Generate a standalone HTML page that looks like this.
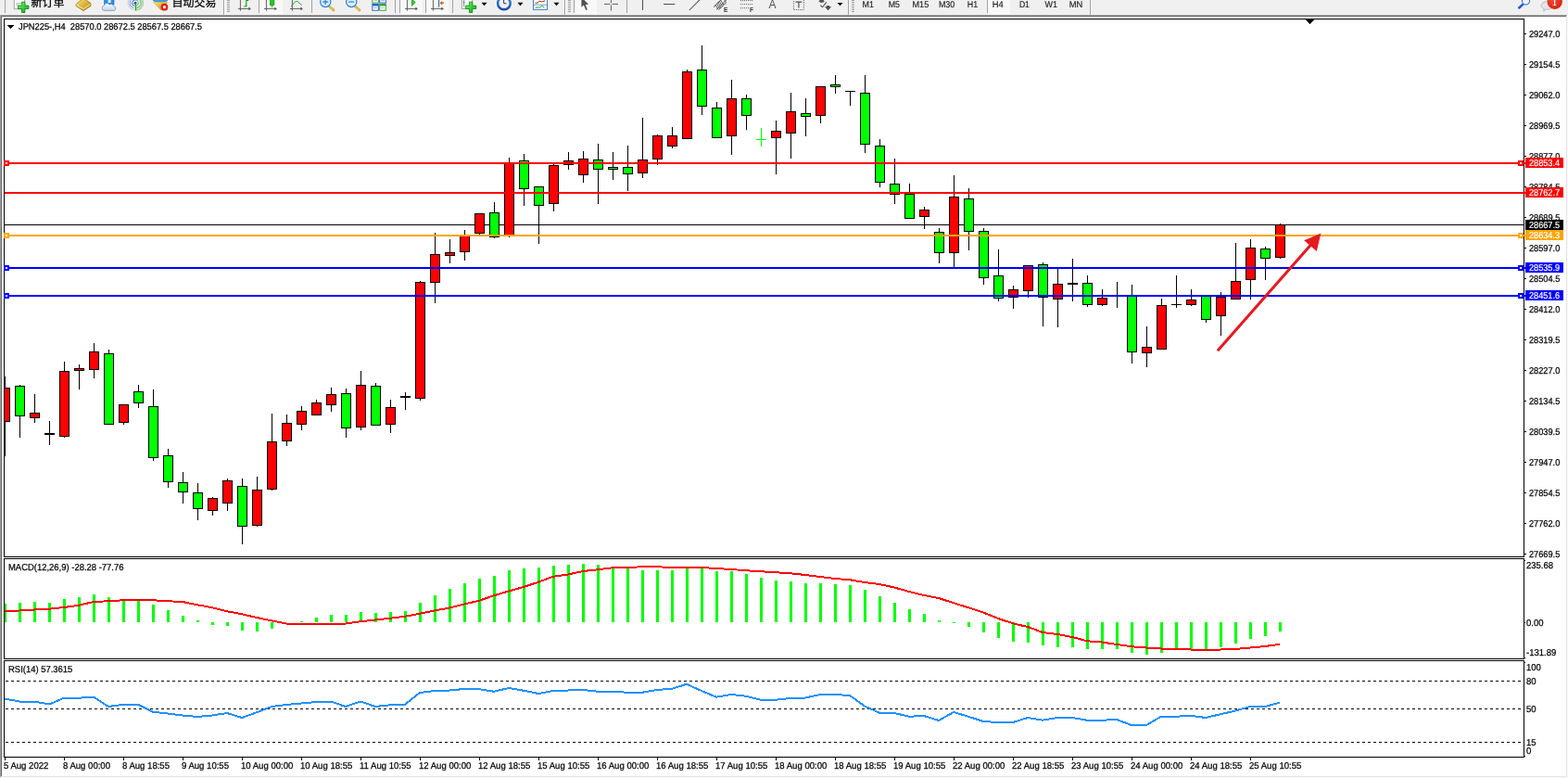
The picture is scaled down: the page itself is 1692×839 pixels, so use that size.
<!DOCTYPE html>
<html lang="zh"><head><meta charset="utf-8"><title>JPN225-,H4</title>
<style>
html,body{margin:0;padding:0;background:#fff;}
body{width:1692px;height:839px;position:relative;overflow:hidden;font-family:"Liberation Sans","Noto Sans CJK SC",sans-serif;}
#c{position:absolute;left:0;top:0;}
.ax{position:absolute;font-size:10px;line-height:11px;height:11px;color:#000;white-space:nowrap;text-rendering:geometricPrecision;-webkit-text-stroke:0.25px #000;transform:scaleX(0.92);transform-origin:0 0;}
.tm{transform:scaleX(0.955);}
.ti{transform:scaleX(0.945);}
.t0{transform:scaleX(0.93);}
.sa{transform:scaleX(0.95);}
.pl{position:absolute;left:1646px;width:41px;height:11px;overflow:hidden;}
.pl span{position:absolute;left:4px;top:1px;font-size:10px;line-height:11px;white-space:nowrap;text-rendering:geometricPrecision;-webkit-text-stroke:0.2px #fff;transform:scaleX(0.915);transform-origin:0 0;}
.tb{position:absolute;left:0;top:0;width:1692px;height:16px;overflow:hidden;}
.tt{position:absolute;font-size:11px;line-height:13px;color:#000;white-space:nowrap;}
.cj{position:absolute;font-size:12px;line-height:14px;color:#000;white-space:nowrap;font-family:"Liberation Sans","Noto Sans CJK SC",sans-serif;}
</style></head><body>
<svg id="c" width="1692" height="839" viewBox="0 0 1692 839" shape-rendering="crispEdges">
<defs><clipPath id="cm"><rect x="5" y="21" width="1639" height="579"/></clipPath></defs>
<rect x="0" y="0" width="1692" height="16" fill="#f0f0f0"/>
<rect x="0" y="16" width="1691" height="1" fill="#a0a0a0"/>
<rect x="1" y="17" width="1689" height="1" fill="#696969"/>
<rect x="0" y="16" width="1" height="823" fill="#a0a0a0"/>
<rect x="1" y="17" width="1" height="821" fill="#696969"/>
<rect x="1690" y="17" width="1" height="821" fill="#e3e3e3"/>
<rect x="1691" y="16" width="1" height="823" fill="#fafafa"/>
<rect x="1" y="837" width="1690" height="1" fill="#e3e3e3"/>
<rect x="0" y="838" width="1692" height="1" fill="#fafafa"/>
<rect x="4" y="20" width="1641" height="1" fill="#000"/>
<rect x="4" y="600" width="1641" height="1" fill="#000"/>
<rect x="4" y="20" width="1" height="581" fill="#000"/>
<rect x="1644" y="20" width="1" height="581" fill="#000"/>
<rect x="4" y="602" width="1641" height="1" fill="#000"/>
<rect x="4" y="710" width="1641" height="1" fill="#000"/>
<rect x="4" y="602" width="1" height="109" fill="#000"/>
<rect x="1644" y="602" width="1" height="109" fill="#000"/>
<rect x="4" y="712" width="1641" height="1" fill="#000"/>
<rect x="4" y="816" width="1641" height="1" fill="#000"/>
<rect x="4" y="712" width="1" height="105" fill="#000"/>
<rect x="1644" y="712" width="1" height="105" fill="#000"/>
<rect x="5" y="242" width="1639" height="1" fill="#000"/>
<g clip-path="url(#cm)">
<rect x="5" y="406" width="1" height="86" fill="#000"/>
<rect x="0" y="418" width="11" height="37" fill="#000"/>
<rect x="1" y="419" width="9" height="35" fill="#ff0000"/>
<rect x="21" y="415" width="1" height="57" fill="#000"/>
<rect x="16" y="416" width="11" height="33" fill="#000"/>
<rect x="17" y="417" width="9" height="31" fill="#00ff00"/>
<rect x="37" y="425" width="1" height="31" fill="#000"/>
<rect x="32" y="445" width="11" height="6" fill="#000"/>
<rect x="33" y="446" width="9" height="4" fill="#ff0000"/>
<rect x="53" y="454" width="1" height="26" fill="#000"/>
<rect x="48" y="467" width="11" height="2" fill="#000"/>
<rect x="69" y="390" width="1" height="82" fill="#000"/>
<rect x="64" y="400" width="11" height="71" fill="#000"/>
<rect x="65" y="401" width="9" height="69" fill="#ff0000"/>
<rect x="85" y="393" width="1" height="27" fill="#000"/>
<rect x="80" y="397" width="11" height="3" fill="#000"/>
<rect x="81" y="398" width="9" height="1" fill="#ff0000"/>
<rect x="101" y="370" width="1" height="38" fill="#000"/>
<rect x="96" y="379" width="11" height="20" fill="#000"/>
<rect x="97" y="380" width="9" height="18" fill="#ff0000"/>
<rect x="117" y="377" width="1" height="80" fill="#000"/>
<rect x="112" y="381" width="11" height="77" fill="#000"/>
<rect x="113" y="382" width="9" height="75" fill="#00ff00"/>
<rect x="133" y="436" width="1" height="22" fill="#000"/>
<rect x="128" y="436" width="11" height="20" fill="#000"/>
<rect x="129" y="437" width="9" height="18" fill="#ff0000"/>
<rect x="149" y="415" width="1" height="25" fill="#000"/>
<rect x="144" y="422" width="11" height="13" fill="#000"/>
<rect x="145" y="423" width="9" height="11" fill="#00ff00"/>
<rect x="165" y="420" width="1" height="77" fill="#000"/>
<rect x="160" y="438" width="11" height="56" fill="#000"/>
<rect x="161" y="439" width="9" height="54" fill="#00ff00"/>
<rect x="181" y="484" width="1" height="42" fill="#000"/>
<rect x="176" y="491" width="11" height="29" fill="#000"/>
<rect x="177" y="492" width="9" height="27" fill="#00ff00"/>
<rect x="197" y="509" width="1" height="34" fill="#000"/>
<rect x="192" y="520" width="11" height="11" fill="#000"/>
<rect x="193" y="521" width="9" height="9" fill="#00ff00"/>
<rect x="213" y="521" width="1" height="40" fill="#000"/>
<rect x="208" y="531" width="11" height="18" fill="#000"/>
<rect x="209" y="532" width="9" height="16" fill="#00ff00"/>
<rect x="229" y="536" width="1" height="20" fill="#000"/>
<rect x="224" y="537" width="11" height="14" fill="#000"/>
<rect x="225" y="538" width="9" height="12" fill="#ff0000"/>
<rect x="245" y="516" width="1" height="35" fill="#000"/>
<rect x="240" y="518" width="11" height="25" fill="#000"/>
<rect x="241" y="519" width="9" height="23" fill="#ff0000"/>
<rect x="261" y="516" width="1" height="71" fill="#000"/>
<rect x="256" y="524" width="11" height="44" fill="#000"/>
<rect x="257" y="525" width="9" height="42" fill="#00ff00"/>
<rect x="277" y="514" width="1" height="54" fill="#000"/>
<rect x="272" y="528" width="11" height="39" fill="#000"/>
<rect x="273" y="529" width="9" height="37" fill="#ff0000"/>
<rect x="293" y="446" width="1" height="83" fill="#000"/>
<rect x="288" y="476" width="11" height="52" fill="#000"/>
<rect x="289" y="477" width="9" height="50" fill="#ff0000"/>
<rect x="309" y="447" width="1" height="34" fill="#000"/>
<rect x="304" y="456" width="11" height="20" fill="#000"/>
<rect x="305" y="457" width="9" height="18" fill="#ff0000"/>
<rect x="325" y="438" width="1" height="26" fill="#000"/>
<rect x="320" y="443" width="11" height="15" fill="#000"/>
<rect x="321" y="444" width="9" height="13" fill="#ff0000"/>
<rect x="341" y="431" width="1" height="17" fill="#000"/>
<rect x="336" y="434" width="11" height="14" fill="#000"/>
<rect x="337" y="435" width="9" height="12" fill="#ff0000"/>
<rect x="357" y="418" width="1" height="26" fill="#000"/>
<rect x="352" y="425" width="11" height="12" fill="#000"/>
<rect x="353" y="426" width="9" height="10" fill="#ff0000"/>
<rect x="373" y="419" width="1" height="53" fill="#000"/>
<rect x="368" y="424" width="11" height="38" fill="#000"/>
<rect x="369" y="425" width="9" height="36" fill="#00ff00"/>
<rect x="389" y="400" width="1" height="64" fill="#000"/>
<rect x="384" y="415" width="11" height="46" fill="#000"/>
<rect x="385" y="416" width="9" height="44" fill="#ff0000"/>
<rect x="405" y="413" width="1" height="46" fill="#000"/>
<rect x="400" y="416" width="11" height="43" fill="#000"/>
<rect x="401" y="417" width="9" height="41" fill="#00ff00"/>
<rect x="421" y="431" width="1" height="36" fill="#000"/>
<rect x="416" y="439" width="11" height="19" fill="#000"/>
<rect x="417" y="440" width="9" height="17" fill="#ff0000"/>
<rect x="437" y="423" width="1" height="19" fill="#000"/>
<rect x="432" y="427" width="11" height="2" fill="#000"/>
<rect x="453" y="303" width="1" height="129" fill="#000"/>
<rect x="448" y="304" width="11" height="126" fill="#000"/>
<rect x="449" y="305" width="9" height="124" fill="#ff0000"/>
<rect x="469" y="251" width="1" height="76" fill="#000"/>
<rect x="464" y="274" width="11" height="31" fill="#000"/>
<rect x="465" y="275" width="9" height="29" fill="#ff0000"/>
<rect x="485" y="258" width="1" height="26" fill="#000"/>
<rect x="480" y="272" width="11" height="4" fill="#000"/>
<rect x="481" y="273" width="9" height="2" fill="#ff0000"/>
<rect x="501" y="248" width="1" height="33" fill="#000"/>
<rect x="496" y="254" width="11" height="18" fill="#000"/>
<rect x="497" y="255" width="9" height="16" fill="#ff0000"/>
<rect x="517" y="230" width="1" height="23" fill="#000"/>
<rect x="512" y="230" width="11" height="22" fill="#000"/>
<rect x="513" y="231" width="9" height="20" fill="#ff0000"/>
<rect x="533" y="218" width="1" height="39" fill="#000"/>
<rect x="528" y="229" width="11" height="27" fill="#000"/>
<rect x="529" y="230" width="9" height="25" fill="#00ff00"/>
<rect x="549" y="170" width="1" height="86" fill="#000"/>
<rect x="544" y="175" width="11" height="80" fill="#000"/>
<rect x="545" y="176" width="9" height="78" fill="#ff0000"/>
<rect x="565" y="166" width="1" height="56" fill="#000"/>
<rect x="560" y="173" width="11" height="31" fill="#000"/>
<rect x="561" y="174" width="9" height="29" fill="#00ff00"/>
<rect x="581" y="201" width="1" height="62" fill="#000"/>
<rect x="576" y="201" width="11" height="21" fill="#000"/>
<rect x="577" y="202" width="9" height="19" fill="#00ff00"/>
<rect x="597" y="177" width="1" height="51" fill="#000"/>
<rect x="592" y="178" width="11" height="42" fill="#000"/>
<rect x="593" y="179" width="9" height="40" fill="#ff0000"/>
<rect x="613" y="164" width="1" height="19" fill="#000"/>
<rect x="608" y="173" width="11" height="5" fill="#000"/>
<rect x="609" y="174" width="9" height="3" fill="#ff0000"/>
<rect x="629" y="163" width="1" height="34" fill="#000"/>
<rect x="624" y="171" width="11" height="18" fill="#000"/>
<rect x="625" y="172" width="9" height="16" fill="#ff0000"/>
<rect x="645" y="155" width="1" height="65" fill="#000"/>
<rect x="640" y="172" width="11" height="11" fill="#000"/>
<rect x="641" y="173" width="9" height="9" fill="#00ff00"/>
<rect x="661" y="164" width="1" height="30" fill="#000"/>
<rect x="656" y="180" width="11" height="3" fill="#000"/>
<rect x="657" y="181" width="9" height="1" fill="#00ff00"/>
<rect x="677" y="157" width="1" height="49" fill="#000"/>
<rect x="672" y="180" width="11" height="8" fill="#000"/>
<rect x="673" y="181" width="9" height="6" fill="#00ff00"/>
<rect x="693" y="127" width="1" height="65" fill="#000"/>
<rect x="688" y="172" width="11" height="15" fill="#000"/>
<rect x="689" y="173" width="9" height="13" fill="#ff0000"/>
<rect x="709" y="145" width="1" height="33" fill="#000"/>
<rect x="704" y="146" width="11" height="26" fill="#000"/>
<rect x="705" y="147" width="9" height="24" fill="#ff0000"/>
<rect x="725" y="137" width="1" height="23" fill="#000"/>
<rect x="720" y="146" width="11" height="12" fill="#000"/>
<rect x="721" y="147" width="9" height="10" fill="#ff0000"/>
<rect x="741" y="75" width="1" height="75" fill="#000"/>
<rect x="736" y="77" width="11" height="73" fill="#000"/>
<rect x="737" y="78" width="9" height="71" fill="#ff0000"/>
<rect x="757" y="49" width="1" height="75" fill="#000"/>
<rect x="752" y="75" width="11" height="40" fill="#000"/>
<rect x="753" y="76" width="9" height="38" fill="#00ff00"/>
<rect x="773" y="110" width="1" height="39" fill="#000"/>
<rect x="768" y="116" width="11" height="33" fill="#000"/>
<rect x="769" y="117" width="9" height="31" fill="#00ff00"/>
<rect x="789" y="86" width="1" height="81" fill="#000"/>
<rect x="784" y="106" width="11" height="41" fill="#000"/>
<rect x="785" y="107" width="9" height="39" fill="#ff0000"/>
<rect x="805" y="102" width="1" height="38" fill="#000"/>
<rect x="800" y="106" width="11" height="19" fill="#000"/>
<rect x="801" y="107" width="9" height="17" fill="#00ff00"/>
<rect x="821" y="138" width="1" height="20" fill="#00ff00"/>
<rect x="816" y="150" width="11" height="1" fill="#00ff00"/>
<rect x="837" y="130" width="1" height="58" fill="#000"/>
<rect x="832" y="141" width="11" height="8" fill="#000"/>
<rect x="833" y="142" width="9" height="6" fill="#ff0000"/>
<rect x="853" y="100" width="1" height="71" fill="#000"/>
<rect x="848" y="120" width="11" height="24" fill="#000"/>
<rect x="849" y="121" width="9" height="22" fill="#ff0000"/>
<rect x="869" y="106" width="1" height="41" fill="#000"/>
<rect x="864" y="122" width="11" height="4" fill="#000"/>
<rect x="865" y="123" width="9" height="2" fill="#00ff00"/>
<rect x="885" y="93" width="1" height="40" fill="#000"/>
<rect x="880" y="93" width="11" height="32" fill="#000"/>
<rect x="881" y="94" width="9" height="30" fill="#ff0000"/>
<rect x="901" y="81" width="1" height="20" fill="#000"/>
<rect x="896" y="91" width="11" height="3" fill="#000"/>
<rect x="897" y="92" width="9" height="1" fill="#00ff00"/>
<rect x="917" y="98" width="1" height="16" fill="#000"/>
<rect x="912" y="98" width="11" height="1" fill="#000"/>
<rect x="933" y="81" width="1" height="84" fill="#000"/>
<rect x="928" y="100" width="11" height="56" fill="#000"/>
<rect x="929" y="101" width="9" height="54" fill="#00ff00"/>
<rect x="949" y="150" width="1" height="52" fill="#000"/>
<rect x="944" y="157" width="11" height="40" fill="#000"/>
<rect x="945" y="158" width="9" height="38" fill="#00ff00"/>
<rect x="965" y="171" width="1" height="49" fill="#000"/>
<rect x="960" y="198" width="11" height="12" fill="#000"/>
<rect x="961" y="199" width="9" height="10" fill="#00ff00"/>
<rect x="981" y="198" width="1" height="38" fill="#000"/>
<rect x="976" y="209" width="11" height="27" fill="#000"/>
<rect x="977" y="210" width="9" height="25" fill="#00ff00"/>
<rect x="997" y="223" width="1" height="24" fill="#000"/>
<rect x="992" y="226" width="11" height="8" fill="#000"/>
<rect x="993" y="227" width="9" height="6" fill="#ff0000"/>
<rect x="1013" y="246" width="1" height="38" fill="#000"/>
<rect x="1008" y="250" width="11" height="23" fill="#000"/>
<rect x="1009" y="251" width="9" height="21" fill="#00ff00"/>
<rect x="1029" y="189" width="1" height="99" fill="#000"/>
<rect x="1024" y="212" width="11" height="61" fill="#000"/>
<rect x="1025" y="213" width="9" height="59" fill="#ff0000"/>
<rect x="1045" y="203" width="1" height="67" fill="#000"/>
<rect x="1040" y="214" width="11" height="36" fill="#000"/>
<rect x="1041" y="215" width="9" height="34" fill="#00ff00"/>
<rect x="1061" y="246" width="1" height="61" fill="#000"/>
<rect x="1056" y="249" width="11" height="51" fill="#000"/>
<rect x="1057" y="250" width="9" height="49" fill="#00ff00"/>
<rect x="1077" y="269" width="1" height="56" fill="#000"/>
<rect x="1072" y="297" width="11" height="25" fill="#000"/>
<rect x="1073" y="298" width="9" height="23" fill="#00ff00"/>
<rect x="1093" y="308" width="1" height="25" fill="#000"/>
<rect x="1088" y="312" width="11" height="9" fill="#000"/>
<rect x="1089" y="313" width="9" height="7" fill="#ff0000"/>
<rect x="1109" y="286" width="1" height="35" fill="#000"/>
<rect x="1104" y="286" width="11" height="28" fill="#000"/>
<rect x="1105" y="287" width="9" height="26" fill="#ff0000"/>
<rect x="1125" y="283" width="1" height="69" fill="#000"/>
<rect x="1120" y="285" width="11" height="36" fill="#000"/>
<rect x="1121" y="286" width="9" height="34" fill="#00ff00"/>
<rect x="1141" y="289" width="1" height="64" fill="#000"/>
<rect x="1136" y="306" width="11" height="17" fill="#000"/>
<rect x="1137" y="307" width="9" height="15" fill="#ff0000"/>
<rect x="1157" y="279" width="1" height="46" fill="#000"/>
<rect x="1152" y="305" width="11" height="2" fill="#000"/>
<rect x="1173" y="297" width="1" height="34" fill="#000"/>
<rect x="1168" y="305" width="11" height="24" fill="#000"/>
<rect x="1169" y="306" width="9" height="22" fill="#00ff00"/>
<rect x="1189" y="312" width="1" height="18" fill="#000"/>
<rect x="1184" y="321" width="11" height="8" fill="#000"/>
<rect x="1185" y="322" width="9" height="6" fill="#ff0000"/>
<rect x="1205" y="304" width="1" height="28" fill="#000"/>
<rect x="1200" y="318" width="11" height="1" fill="#000"/>
<rect x="1221" y="307" width="1" height="85" fill="#000"/>
<rect x="1216" y="319" width="11" height="61" fill="#000"/>
<rect x="1217" y="320" width="9" height="59" fill="#00ff00"/>
<rect x="1237" y="352" width="1" height="44" fill="#000"/>
<rect x="1232" y="374" width="11" height="7" fill="#000"/>
<rect x="1233" y="375" width="9" height="5" fill="#ff0000"/>
<rect x="1253" y="322" width="1" height="55" fill="#000"/>
<rect x="1248" y="329" width="11" height="48" fill="#000"/>
<rect x="1249" y="330" width="9" height="46" fill="#ff0000"/>
<rect x="1269" y="297" width="1" height="35" fill="#000"/>
<rect x="1264" y="328" width="11" height="1" fill="#000"/>
<rect x="1285" y="312" width="1" height="18" fill="#000"/>
<rect x="1280" y="323" width="11" height="6" fill="#000"/>
<rect x="1281" y="324" width="9" height="4" fill="#ff0000"/>
<rect x="1301" y="319" width="1" height="29" fill="#000"/>
<rect x="1296" y="319" width="11" height="26" fill="#000"/>
<rect x="1297" y="320" width="9" height="24" fill="#00ff00"/>
<rect x="1317" y="315" width="1" height="47" fill="#000"/>
<rect x="1312" y="320" width="11" height="21" fill="#000"/>
<rect x="1313" y="321" width="9" height="19" fill="#ff0000"/>
<rect x="1333" y="262" width="1" height="61" fill="#000"/>
<rect x="1328" y="303" width="11" height="20" fill="#000"/>
<rect x="1329" y="304" width="9" height="18" fill="#ff0000"/>
<rect x="1349" y="258" width="1" height="65" fill="#000"/>
<rect x="1344" y="267" width="11" height="35" fill="#000"/>
<rect x="1345" y="268" width="9" height="33" fill="#ff0000"/>
<rect x="1365" y="266" width="1" height="36" fill="#000"/>
<rect x="1360" y="268" width="11" height="11" fill="#000"/>
<rect x="1361" y="269" width="9" height="9" fill="#00ff00"/>
<rect x="1381" y="241" width="1" height="38" fill="#000"/>
<rect x="1376" y="242" width="11" height="36" fill="#000"/>
<rect x="1377" y="243" width="9" height="34" fill="#ff0000"/>
</g>
<rect x="5" y="175" width="1641" height="2" fill="#ff0000"/>
<rect x="4" y="173" width="6" height="6" fill="#ff0000"/>
<rect x="6" y="175" width="2" height="2" fill="#fff"/>
<rect x="1638" y="173" width="6" height="6" fill="#ff0000"/>
<rect x="1640" y="175" width="2" height="2" fill="#fff"/>
<rect x="5" y="207" width="1641" height="2" fill="#ff0000"/>
<rect x="5" y="253" width="1641" height="2" fill="#ffa500"/>
<rect x="4" y="251" width="6" height="6" fill="#ffa500"/>
<rect x="6" y="253" width="2" height="2" fill="#fff"/>
<rect x="1638" y="251" width="6" height="6" fill="#ffa500"/>
<rect x="1640" y="253" width="2" height="2" fill="#fff"/>
<rect x="5" y="288" width="1641" height="2" fill="#0000ff"/>
<rect x="4" y="286" width="6" height="6" fill="#0000ff"/>
<rect x="6" y="288" width="2" height="2" fill="#fff"/>
<rect x="1638" y="286" width="6" height="6" fill="#0000ff"/>
<rect x="1640" y="288" width="2" height="2" fill="#fff"/>
<rect x="5" y="318" width="1641" height="2" fill="#0000ff"/>
<rect x="4" y="316" width="6" height="6" fill="#0000ff"/>
<rect x="6" y="318" width="2" height="2" fill="#fff"/>
<rect x="1638" y="316" width="6" height="6" fill="#0000ff"/>
<rect x="1640" y="318" width="2" height="2" fill="#fff"/>
<g shape-rendering="geometricPrecision"><line x1="1313.9" y1="378.2" x2="1414.3" y2="264.2" stroke="#e41a21" stroke-width="3.1"/><polygon points="1425.4,251.6 1407.2,259.3 1420.8,271" fill="#e41a21"/></g>
<rect x="1409" y="21" width="9" height="1" fill="#000"/>
<rect x="1410" y="22" width="7" height="1" fill="#000"/>
<rect x="1411" y="23" width="5" height="1" fill="#000"/>
<rect x="1412" y="24" width="3" height="1" fill="#000"/>
<rect x="1413" y="25" width="1" height="1" fill="#000"/>
<rect x="5" y="651" width="2" height="20" fill="#00ff00"/>
<rect x="20" y="650" width="3" height="21" fill="#00ff00"/>
<rect x="36" y="649" width="3" height="22" fill="#00ff00"/>
<rect x="52" y="650" width="3" height="21" fill="#00ff00"/>
<rect x="68" y="646" width="3" height="25" fill="#00ff00"/>
<rect x="84" y="644" width="3" height="27" fill="#00ff00"/>
<rect x="100" y="641" width="3" height="30" fill="#00ff00"/>
<rect x="116" y="644" width="3" height="27" fill="#00ff00"/>
<rect x="132" y="646" width="3" height="25" fill="#00ff00"/>
<rect x="148" y="647" width="3" height="24" fill="#00ff00"/>
<rect x="164" y="652" width="3" height="19" fill="#00ff00"/>
<rect x="180" y="658" width="3" height="13" fill="#00ff00"/>
<rect x="196" y="664" width="3" height="7" fill="#00ff00"/>
<rect x="212" y="669" width="3" height="2" fill="#00ff00"/>
<rect x="228" y="671" width="3" height="3" fill="#00ff00"/>
<rect x="244" y="671" width="3" height="4" fill="#00ff00"/>
<rect x="260" y="671" width="3" height="9" fill="#00ff00"/>
<rect x="276" y="671" width="3" height="10" fill="#00ff00"/>
<rect x="292" y="671" width="3" height="7" fill="#00ff00"/>
<rect x="308" y="671" width="3" height="0" fill="#00ff00"/>
<rect x="324" y="670" width="3" height="1" fill="#00ff00"/>
<rect x="340" y="666" width="3" height="5" fill="#00ff00"/>
<rect x="356" y="663" width="3" height="8" fill="#00ff00"/>
<rect x="372" y="663" width="3" height="8" fill="#00ff00"/>
<rect x="388" y="660" width="3" height="11" fill="#00ff00"/>
<rect x="404" y="661" width="3" height="10" fill="#00ff00"/>
<rect x="420" y="660" width="3" height="11" fill="#00ff00"/>
<rect x="436" y="659" width="3" height="12" fill="#00ff00"/>
<rect x="452" y="650" width="3" height="21" fill="#00ff00"/>
<rect x="468" y="642" width="3" height="29" fill="#00ff00"/>
<rect x="484" y="635" width="3" height="36" fill="#00ff00"/>
<rect x="500" y="629" width="3" height="42" fill="#00ff00"/>
<rect x="516" y="624" width="3" height="47" fill="#00ff00"/>
<rect x="532" y="621" width="3" height="50" fill="#00ff00"/>
<rect x="548" y="615" width="3" height="56" fill="#00ff00"/>
<rect x="564" y="613" width="3" height="58" fill="#00ff00"/>
<rect x="580" y="612" width="3" height="59" fill="#00ff00"/>
<rect x="596" y="610" width="3" height="61" fill="#00ff00"/>
<rect x="612" y="609" width="3" height="62" fill="#00ff00"/>
<rect x="628" y="608" width="3" height="63" fill="#00ff00"/>
<rect x="644" y="609" width="3" height="62" fill="#00ff00"/>
<rect x="660" y="611" width="3" height="60" fill="#00ff00"/>
<rect x="676" y="613" width="3" height="58" fill="#00ff00"/>
<rect x="692" y="615" width="3" height="56" fill="#00ff00"/>
<rect x="708" y="615" width="3" height="56" fill="#00ff00"/>
<rect x="724" y="615" width="3" height="56" fill="#00ff00"/>
<rect x="740" y="613" width="3" height="58" fill="#00ff00"/>
<rect x="756" y="613" width="3" height="58" fill="#00ff00"/>
<rect x="772" y="616" width="3" height="55" fill="#00ff00"/>
<rect x="788" y="616" width="3" height="55" fill="#00ff00"/>
<rect x="804" y="619" width="3" height="52" fill="#00ff00"/>
<rect x="820" y="623" width="3" height="48" fill="#00ff00"/>
<rect x="836" y="626" width="3" height="45" fill="#00ff00"/>
<rect x="852" y="627" width="3" height="44" fill="#00ff00"/>
<rect x="868" y="629" width="3" height="42" fill="#00ff00"/>
<rect x="884" y="629" width="3" height="42" fill="#00ff00"/>
<rect x="900" y="630" width="3" height="41" fill="#00ff00"/>
<rect x="916" y="631" width="3" height="40" fill="#00ff00"/>
<rect x="932" y="636" width="3" height="35" fill="#00ff00"/>
<rect x="948" y="643" width="3" height="28" fill="#00ff00"/>
<rect x="964" y="650" width="3" height="21" fill="#00ff00"/>
<rect x="980" y="657" width="3" height="14" fill="#00ff00"/>
<rect x="996" y="662" width="3" height="9" fill="#00ff00"/>
<rect x="1012" y="669" width="3" height="2" fill="#00ff00"/>
<rect x="1028" y="671" width="3" height="1" fill="#00ff00"/>
<rect x="1044" y="671" width="3" height="5" fill="#00ff00"/>
<rect x="1060" y="671" width="3" height="11" fill="#00ff00"/>
<rect x="1076" y="671" width="3" height="17" fill="#00ff00"/>
<rect x="1092" y="671" width="3" height="21" fill="#00ff00"/>
<rect x="1108" y="671" width="3" height="22" fill="#00ff00"/>
<rect x="1124" y="671" width="3" height="25" fill="#00ff00"/>
<rect x="1140" y="671" width="3" height="27" fill="#00ff00"/>
<rect x="1156" y="671" width="3" height="27" fill="#00ff00"/>
<rect x="1172" y="671" width="3" height="29" fill="#00ff00"/>
<rect x="1188" y="671" width="3" height="29" fill="#00ff00"/>
<rect x="1204" y="671" width="3" height="29" fill="#00ff00"/>
<rect x="1220" y="671" width="3" height="33" fill="#00ff00"/>
<rect x="1236" y="671" width="3" height="35" fill="#00ff00"/>
<rect x="1252" y="671" width="3" height="33" fill="#00ff00"/>
<rect x="1268" y="671" width="3" height="30" fill="#00ff00"/>
<rect x="1284" y="671" width="3" height="29" fill="#00ff00"/>
<rect x="1300" y="671" width="3" height="29" fill="#00ff00"/>
<rect x="1316" y="671" width="3" height="27" fill="#00ff00"/>
<rect x="1332" y="671" width="3" height="23" fill="#00ff00"/>
<rect x="1348" y="671" width="3" height="18" fill="#00ff00"/>
<rect x="1364" y="671" width="3" height="15" fill="#00ff00"/>
<rect x="1380" y="671" width="3" height="10" fill="#00ff00"/>
<polyline points="5,658.75 21,658.50 37,657.50 53,656.75 69,655.00 85,652.75 101,649.00 117,648.25 133,647.25 149,647.25 165,647.25 181,648.25 197,649.00 213,652.25 229,655.25 245,659.25 261,662.25 277,666.00 293,669.25 309,672.50 325,672.50 341,672.50 357,672.50 373,672.50 389,670.25 405,668.50 421,666.75 437,664.75 453,661.75 469,658.50 485,655.50 501,651.50 517,647.75 533,642.25 549,637.50 565,633.00 581,627.75 597,621.75 613,619.50 629,616.00 645,614.25 661,612.25 677,612.00 693,611.25 709,611.25 725,612.00 741,612.00 757,612.00 773,613.00 789,614.00 805,615.25 821,616.25 837,617.25 853,618.25 869,620.00 885,622.00 901,624.00 917,625.25 933,628.00 949,630.00 965,633.50 981,638.00 997,642.00 1013,645.00 1029,650.25 1045,655.25 1061,660.50 1077,667.00 1093,672.25 1109,676.00 1125,682.00 1141,684.00 1157,687.00 1173,691.25 1189,692.50 1205,695.00 1221,697.25 1237,698.50 1253,699.50 1269,700.00 1285,700.50 1301,700.50 1317,700.50 1333,700.00 1349,698.50 1365,697.00 1381,694.75" fill="none" stroke="#ff0000" stroke-width="2" shape-rendering="crispEdges"/>
<line x1="6" y1="734.5" x2="1644" y2="734.5" stroke="#000" stroke-width="1" stroke-dasharray="3 3"/>
<line x1="6" y1="764.5" x2="1644" y2="764.5" stroke="#000" stroke-width="1" stroke-dasharray="3 3"/>
<line x1="6" y1="800.5" x2="1644" y2="800.5" stroke="#000" stroke-width="1" stroke-dasharray="3 3"/>
<polyline points="5,753.50 21,756.50 37,756.50 53,759.50 69,752.75 85,752.75 101,751.50 117,762.00 133,759.75 149,759.75 165,767.75 181,769.50 197,771.50 213,773.00 229,771.50 245,769.00 261,774.00 277,768.25 293,762.00 309,760.00 325,758.50 341,757.00 357,756.50 373,762.00 389,756.50 405,762.00 421,760.25 437,759.75 453,747.00 469,745.00 485,744.50 501,743.00 517,743.25 533,745.75 549,742.00 565,744.75 581,748.00 597,745.00 613,744.50 629,744.00 645,745.75 661,745.75 677,746.75 693,746.75 709,744.00 725,742.75 741,737.75 757,745.00 773,751.75 789,749.00 805,750.75 821,754.75 837,754.75 853,753.00 869,752.50 885,749.00 901,749.00 917,750.00 933,761.50 949,768.75 965,769.00 981,772.75 997,772.00 1013,777.00 1029,768.00 1045,772.75 1061,778.00 1077,779.00 1093,779.00 1109,774.00 1125,776.75 1141,774.00 1157,774.00 1173,776.75 1189,776.75 1205,776.00 1221,782.00 1237,782.00 1253,772.75 1269,772.75 1285,771.75 1301,774.00 1317,770.25 1333,766.50 1349,762.00 1365,762.00 1381,757.75" fill="none" stroke="#1e90ff" stroke-width="2" shape-rendering="crispEdges"/>
<rect x="1645" y="36" width="2" height="1" fill="#000"/>
<rect x="1645" y="69" width="2" height="1" fill="#000"/>
<rect x="1645" y="102" width="2" height="1" fill="#000"/>
<rect x="1645" y="135" width="2" height="1" fill="#000"/>
<rect x="1645" y="168" width="2" height="1" fill="#000"/>
<rect x="1645" y="201" width="2" height="1" fill="#000"/>
<rect x="1645" y="234" width="2" height="1" fill="#000"/>
<rect x="1645" y="267" width="2" height="1" fill="#000"/>
<rect x="1645" y="300" width="2" height="1" fill="#000"/>
<rect x="1645" y="333" width="2" height="1" fill="#000"/>
<rect x="1645" y="366" width="2" height="1" fill="#000"/>
<rect x="1645" y="399" width="2" height="1" fill="#000"/>
<rect x="1645" y="432" width="2" height="1" fill="#000"/>
<rect x="1645" y="465" width="2" height="1" fill="#000"/>
<rect x="1645" y="498" width="2" height="1" fill="#000"/>
<rect x="1645" y="531" width="2" height="1" fill="#000"/>
<rect x="1645" y="564" width="2" height="1" fill="#000"/>
<rect x="1645" y="597" width="2" height="1" fill="#000"/>
<rect x="1645" y="604" width="1" height="1" fill="#000"/>
<rect x="1645" y="671" width="1" height="1" fill="#000"/>
<rect x="1645" y="709" width="1" height="1" fill="#000"/>
<rect x="1645" y="714" width="1" height="1" fill="#000"/>
<rect x="1645" y="815" width="1" height="1" fill="#000"/>
<rect x="5" y="817" width="1" height="3" fill="#000"/>
<rect x="69" y="817" width="1" height="3" fill="#000"/>
<rect x="133" y="817" width="1" height="3" fill="#000"/>
<rect x="197" y="817" width="1" height="3" fill="#000"/>
<rect x="261" y="817" width="1" height="3" fill="#000"/>
<rect x="325" y="817" width="1" height="3" fill="#000"/>
<rect x="389" y="817" width="1" height="3" fill="#000"/>
<rect x="453" y="817" width="1" height="3" fill="#000"/>
<rect x="517" y="817" width="1" height="3" fill="#000"/>
<rect x="581" y="817" width="1" height="3" fill="#000"/>
<rect x="645" y="817" width="1" height="3" fill="#000"/>
<rect x="709" y="817" width="1" height="3" fill="#000"/>
<rect x="773" y="817" width="1" height="3" fill="#000"/>
<rect x="837" y="817" width="1" height="3" fill="#000"/>
<rect x="901" y="817" width="1" height="3" fill="#000"/>
<rect x="965" y="817" width="1" height="3" fill="#000"/>
<rect x="1029" y="817" width="1" height="3" fill="#000"/>
<rect x="1093" y="817" width="1" height="3" fill="#000"/>
<rect x="1157" y="817" width="1" height="3" fill="#000"/>
<rect x="1221" y="817" width="1" height="3" fill="#000"/>
<rect x="1285" y="817" width="1" height="3" fill="#000"/>
<rect x="1349" y="817" width="1" height="3" fill="#000"/>
<rect x="8" y="27" width="7" height="1" fill="#000"/>
<rect x="9" y="28" width="5" height="1" fill="#000"/>
<rect x="10" y="29" width="3" height="1" fill="#000"/>
<rect x="11" y="30" width="1" height="1" fill="#000"/>
</svg>
<div class="ax" style="left:1650px;top:32px;">29247.0</div>
<div class="ax" style="left:1650px;top:65px;">29154.5</div>
<div class="ax" style="left:1650px;top:98px;">29062.0</div>
<div class="ax" style="left:1650px;top:131px;">28969.5</div>
<div class="ax" style="left:1650px;top:164px;">28877.0</div>
<div class="ax" style="left:1650px;top:197px;">28784.5</div>
<div class="ax" style="left:1650px;top:230px;">28689.5</div>
<div class="ax" style="left:1650px;top:263px;">28597.0</div>
<div class="ax" style="left:1650px;top:296px;">28504.5</div>
<div class="ax" style="left:1650px;top:329px;">28412.0</div>
<div class="ax" style="left:1650px;top:362px;">28319.5</div>
<div class="ax" style="left:1650px;top:395px;">28227.0</div>
<div class="ax" style="left:1650px;top:428px;">28134.5</div>
<div class="ax" style="left:1650px;top:461px;">28039.5</div>
<div class="ax" style="left:1650px;top:494px;">27947.0</div>
<div class="ax" style="left:1650px;top:527px;">27854.5</div>
<div class="ax" style="left:1650px;top:560px;">27762.0</div>
<div class="ax" style="left:1650px;top:593px;">27669.5</div>
<div class="pl" style="top:170px;background:#ff0000;color:#fff"><span>28853.4</span></div>
<div class="pl" style="top:202px;background:#ff0000;color:#fff"><span>28762.7</span></div>
<div class="pl" style="top:237px;background:#000;color:#fff"><span>28667.5</span></div>
<div class="pl" style="top:248px;background:#ffa500;color:#fff"><span>28634.3</span></div>
<div class="pl" style="top:283px;background:#0000ff;color:#fff"><span>28535.9</span></div>
<div class="pl" style="top:313px;background:#0000ff;color:#fff"><span>28451.6</span></div>
<div class="ax sa" style="left:1647.3px;top:605px;">235.68</div>
<div class="ax sa" style="left:1647.3px;top:667px;">0.00</div>
<div class="ax sa" style="left:1647.3px;top:699px;">-131.89</div>
<div class="ax sa" style="left:1647.3px;top:715px;">100</div>
<div class="ax sa" style="left:1647.3px;top:730px;">80</div>
<div class="ax sa" style="left:1647.3px;top:760px;">50</div>
<div class="ax sa" style="left:1647.3px;top:796px;">15</div>
<div class="ax sa" style="left:1647.3px;top:805px;">0</div>
<div class="ax tm" style="left:4px;top:821px;">5 Aug 2022</div>
<div class="ax tm" style="left:68px;top:821px;">8 Aug 00:00</div>
<div class="ax tm" style="left:132px;top:821px;">8 Aug 18:55</div>
<div class="ax tm" style="left:196px;top:821px;">9 Aug 10:55</div>
<div class="ax tm" style="left:260px;top:821px;">10 Aug 00:00</div>
<div class="ax tm" style="left:324px;top:821px;">10 Aug 18:55</div>
<div class="ax tm" style="left:388px;top:821px;">11 Aug 10:55</div>
<div class="ax tm" style="left:452px;top:821px;">12 Aug 00:00</div>
<div class="ax tm" style="left:516px;top:821px;">12 Aug 18:55</div>
<div class="ax tm" style="left:580px;top:821px;">15 Aug 10:55</div>
<div class="ax tm" style="left:644px;top:821px;">16 Aug 00:00</div>
<div class="ax tm" style="left:708px;top:821px;">16 Aug 18:55</div>
<div class="ax tm" style="left:772px;top:821px;">17 Aug 10:55</div>
<div class="ax tm" style="left:836px;top:821px;">18 Aug 00:00</div>
<div class="ax tm" style="left:900px;top:821px;">18 Aug 18:55</div>
<div class="ax tm" style="left:964px;top:821px;">19 Aug 10:55</div>
<div class="ax tm" style="left:1028px;top:821px;">22 Aug 00:00</div>
<div class="ax tm" style="left:1092px;top:821px;">22 Aug 18:55</div>
<div class="ax tm" style="left:1156px;top:821px;">23 Aug 10:55</div>
<div class="ax tm" style="left:1220px;top:821px;">24 Aug 00:00</div>
<div class="ax tm" style="left:1284px;top:821px;">24 Aug 18:55</div>
<div class="ax tm" style="left:1348px;top:821px;">25 Aug 10:55</div>
<div class="ax t0" style="left:20px;top:24px;">JPN225-,H4&nbsp; 28570.0 28672.5 28567.5 28667.5</div>
<div class="ax ti" style="left:9px;top:607px;">MACD(12,26,9) -28.28 -77.76</div>
<div class="ax ti" style="left:9px;top:717px;">RSI(14) 57.3615</div>
<svg class="tb" width="1692" height="16" viewBox="0 0 1692 16">
<defs><linearGradient id="gp" x1="0" y1="0" x2="1" y2="1"><stop offset="0" stop-color="#7dff7d"/><stop offset="1" stop-color="#0a9a0a"/></linearGradient><linearGradient id="gy" x1="0" y1="0" x2="1" y2="1"><stop offset="0" stop-color="#ffe680"/><stop offset="1" stop-color="#b8860b"/></linearGradient><linearGradient id="gc" x1="0" y1="0" x2="0" y2="1"><stop offset="0" stop-color="#ffffff"/><stop offset="1" stop-color="#c4d2ea"/></linearGradient><radialGradient id="gr" cx="0.4" cy="0.3" r="0.8"><stop offset="0" stop-color="#f0533a"/><stop offset="1" stop-color="#d41c08"/></radialGradient><linearGradient id="gb" x1="0" y1="0" x2="0" y2="1"><stop offset="0" stop-color="#3b8ae8"/><stop offset="1" stop-color="#0d4aa8"/></linearGradient><g id="plus"><path d="M-1.7,-5.7h3.4v4h4v3.4h-4v4h-3.4v-4h-4v-3.4h4z" fill="url(#gp)" stroke="#0a8a0a" stroke-width="0.8"/></g><g id="dd"><path d="M-3,-1.7h6l-3,3.4z" fill="#000"/></g><g id="ax"><path d="M2.4,-2v13.7M0,9.4h12" stroke="#505050" stroke-width="0.9" fill="none"/><path d="M11.4,7.6l2.4,1.8l-2.4,1.8z" fill="#505050"/></g><g id="grip" shape-rendering="crispEdges"><rect x="0" y="0" width="3" height="1" fill="#a0a0a0"/><rect x="0" y="2" width="3" height="1" fill="#a0a0a0"/><rect x="0" y="4" width="3" height="1" fill="#a0a0a0"/><rect x="0" y="6" width="3" height="1" fill="#a0a0a0"/><rect x="0" y="8" width="3" height="1" fill="#a0a0a0"/><rect x="0" y="10" width="3" height="1" fill="#a0a0a0"/><rect x="0" y="12" width="3" height="1" fill="#a0a0a0"/></g><g id="sep" shape-rendering="crispEdges"><rect x="0" y="0" width="1" height="14" fill="#a0a0a0"/></g><g id="sepf" shape-rendering="crispEdges"><rect x="0" y="0" width="1" height="16" fill="#a0a0a0"/><rect x="1" y="0" width="1" height="16" fill="#ffffff"/></g><g id="mag"><path d="M3.6,4.4l5.2,4.6" stroke="#c9a227" stroke-width="2.6" stroke-linecap="round"/><path d="M3.6,4.4l5.2,4.6" stroke="#f5e08a" stroke-width="1" stroke-linecap="round"/><circle cx="0" cy="0" r="5.6" fill="#d9eefb" stroke="#2f7fd6" stroke-width="1.2"/></g></defs>
<g shape-rendering="crispEdges"><rect x="280" y="0" width="25" height="14" fill="#f8f8f8"/><rect x="280" y="14" width="26" height="1" fill="#fbfbfb"/><rect x="279" y="0" width="1" height="14" fill="#a0a0a0"/></g>
<g shape-rendering="crispEdges"><rect x="432" y="0" width="24" height="14" fill="#f8f8f8"/><rect x="432" y="14" width="25" height="1" fill="#fbfbfb"/><rect x="431" y="0" width="1" height="14" fill="#a0a0a0"/></g>
<g shape-rendering="crispEdges"><rect x="460" y="0" width="24" height="14" fill="#f8f8f8"/><rect x="460" y="14" width="25" height="1" fill="#fbfbfb"/><rect x="459" y="0" width="1" height="14" fill="#a0a0a0"/></g>
<g shape-rendering="crispEdges"><rect x="620" y="0" width="24" height="14" fill="#f8f8f8"/><rect x="620" y="14" width="25" height="1" fill="#fbfbfb"/><rect x="619" y="0" width="1" height="14" fill="#a0a0a0"/></g>
<g shape-rendering="crispEdges"><rect x="1066" y="0" width="24" height="14" fill="#f8f8f8"/><rect x="1066" y="14" width="25" height="1" fill="#fbfbfb"/><rect x="1065" y="0" width="1" height="14" fill="#a0a0a0"/></g>
<use href="#sep" x="5"/>
<use href="#sep" x="336"/>
<use href="#sep" x="426"/>
<use href="#sep" x="488"/>
<use href="#sep" x="676"/>
<use href="#sepf" x="241"/>
<use href="#sepf" x="609"/>
<use href="#sepf" x="915"/>
<use href="#sepf" x="1176"/>
<use href="#grip" x="245"/>
<use href="#grip" x="613"/>
<use href="#grip" x="919"/>
<path d="M15.3,-2h11.4v11.7h-11.4z" fill="#fff" stroke="#8a8a8a" stroke-width="0.8"/><path d="M17,3.6h6M17,5.2h4" stroke="#9a9a9a" stroke-width="0.7"/>
<use href="#plus" x="25.2" y="7.8"/>
<path d="M82,4.5L90,-2L98,3.5L98,6.5L90,11.7L82,6.5z" fill="url(#gy)" stroke="#9c7412" stroke-width="0.7"/><path d="M82.5,5L90,9.6L97.6,4.6" stroke="#fff3b0" stroke-width="0.8" fill="none"/>
<rect x="112.6" y="-3" width="10.4" height="8" fill="#2a8fe8" stroke="#1565c0" stroke-width="0.6"/><rect x="116.6" y="0" width="3" height="3" fill="#e8f4ff"/>
<path d="M112.5,11.4a2.6,2.6 0 0 1 -0.4,-5.1a3.3,3.3 0 0 1 6,-1.2a2.8,2.8 0 0 1 4.4,1.6a2.4,2.4 0 0 1 0.6,4.7z" fill="url(#gc)" stroke="#7f95bd" stroke-width="0.8"/>
<g fill="none" stroke-width="1"><path d="M146,-4.6a7.8,7.8 0 0 0 -2.5,15.2" stroke="#b9c8ee"/><path d="M146,-2.4a5.6,5.6 0 0 0 -1.6,11" stroke="#6d8ee0"/><path d="M146,-0.2a3.4,3.4 0 0 0 -0.8,6.7" stroke="#3a66d6"/><path d="M146,-4.6a7.8,7.8 0 0 1 1,15.6" stroke="#a5d3a5" stroke-width="1.6"/><path d="M146,-2.4a5.6,5.6 0 0 1 1,11.2" stroke="#7cbf7c" stroke-width="1.4"/><path d="M146,-0.2a3.4,3.4 0 0 1 0.8,6.7" stroke="#5fae5f"/></g><circle cx="146" cy="3.2" r="1.5" fill="#2a55d0"/><path d="M146.4,3.4v8" stroke="#1aa31a" stroke-width="1.2"/>
<ellipse cx="173" cy="0" rx="7.8" ry="2.6" fill="#3aa0e0" stroke="#1d6fb5" stroke-width="0.6"/><path d="M165.4,2.2h15.4l-7.2,8.6z" fill="url(#gy)" stroke="#c9a227" stroke-width="0.5"/>
<circle cx="177.4" cy="7.7" r="3.9" fill="#dd2211"/><rect x="176" y="6.3" width="2.8" height="2.8" fill="#fff"/>
<use href="#ax" x="257" y="0"/><path d="M263.2,6.8h2.6v-6.4h2.4" stroke="#0a9a0a" stroke-width="1.1" fill="none"/>
<use href="#ax" x="285" y="0"/><rect x="291.3" y="-2" width="4.6" height="7.6" fill="#22cc22" stroke="#0a8a0a" stroke-width="0.6"/><path d="M293.6,5.6v2.2" stroke="#0a8a0a" stroke-width="1"/>
<use href="#ax" x="313" y="0"/><path d="M314,6.8c2.5,-1.5 4,-5.6 6.3,-5.4c2,0.2 3,3 5.4,4" stroke="#1a9a1a" stroke-width="1" fill="none"/>
<use href="#mag" x="351.2" y="2"/><path d="M348.2,2h6M351.2,-1v6" stroke="#3f86c9" stroke-width="1.3"/>
<use href="#mag" x="379.2" y="2"/><path d="M376.2,2h6" stroke="#3f86c9" stroke-width="1.3"/>
<rect x="401.3" y="-4" width="7.6" height="7.5" fill="#3aa23a"/><rect x="402.3" y="-1.4" width="5.6" height="3.9" fill="#fff"/><rect x="403.3" y="0.20000000000000018" width="3.6" height="0.9" fill="#3aa23a" opacity="0.55"/>
<rect x="409.2" y="-4" width="7.6" height="7.5" fill="#2d62d6"/><rect x="410.2" y="-1.4" width="5.6" height="3.9" fill="#fff"/><rect x="411.2" y="0.20000000000000018" width="3.6" height="0.9" fill="#2d62d6" opacity="0.55"/>
<rect x="401.3" y="3.9" width="7.6" height="7.8" fill="#2d62d6"/><rect x="402.3" y="6.5" width="5.6" height="4.199999999999999" fill="#fff"/><rect x="403.3" y="8.1" width="3.6" height="0.9" fill="#2d62d6" opacity="0.55"/>
<rect x="409.2" y="3.9" width="7.6" height="7.8" fill="#3aa23a"/><rect x="410.2" y="6.5" width="5.6" height="4.199999999999999" fill="#fff"/><rect x="411.2" y="8.1" width="3.6" height="0.9" fill="#3aa23a" opacity="0.55"/>
<use href="#ax" x="437" y="0"/><path d="M444.4,-1l3.8,3.6l-3.8,3.8z" fill="#35c935" stroke="#0a9a0a" stroke-width="0.7"/>
<use href="#ax" x="465" y="0"/><path d="M473.6,-1v8.8" stroke="#1f6fa8" stroke-width="1.1"/><path d="M474.6,3.2l2.6,-2.2v1.6h1.8v1.2h-1.8v1.6z" fill="#e04a10"/>
<path d="M498.3,-2h11.4v11.4h-11.4z" fill="#fff" stroke="#8a8a8a" stroke-width="0.8"/><path d="M500.6,0v7M499.6,2.4h2" stroke="#555" stroke-width="0.7"/>
<use href="#plus" x="508.1" y="7.8"/><use href="#dd" x="522.5" y="4.5"/>
<circle cx="543.9" cy="3.5" r="6.8" fill="#eef1f6" stroke="url(#gb)" stroke-width="2.4"/><path d="M543.6,-1v4.6l2.8,0.3" stroke="#333" stroke-width="1" fill="none"/><circle cx="543.9" cy="3.5" r="5.4" fill="none" stroke="#8a8a8a" stroke-width="0.9" stroke-dasharray="0.8 2"/><use href="#dd" x="561.5" y="4.5"/>
<rect x="575.5" y="-2" width="15" height="12.4" fill="#fff" stroke="#3b7dd0" stroke-width="1"/><path d="M575.5,5.2h15" stroke="#3b7dd0" stroke-width="0.8"/><path d="M577.5,3.4l2.6,-0.4l2,-1.8l2.6,0.8l3.6,-1.2" stroke="#a52a00" stroke-width="1" fill="none"/><path d="M577.8,8.4l2.4,-0.6l1.6,0.6l3,-2l2.6,1.8" stroke="#1a9a1a" stroke-width="1" fill="none"/><use href="#dd" x="600.5" y="4.5"/>
<path d="M627.4,-3v10.8l2.5,-2.2l2.4,5.4l1.6,-0.7l-2.3,-5.3l3.5,-0.3z" fill="#505050"/>
<path d="M652,4.4h6.3M660.6,4.4h6.4M659.4,-2v5.4M659.4,5.4v6.3" stroke="#505050" stroke-width="0.9"/>
<path d="M693.5,-2v13M716,4.4h12.2" stroke="#505050" stroke-width="1.05"/><path d="M743.8,11L755.4,-0.5" stroke="#505050" stroke-width="1.05"/>
<g stroke="#484848" stroke-width="1" fill="none"><path d="M770,7.6L780,-2M773,10.4L784.4,-0.6M775.6,10.6L784,2.4"/><path d="M772,5l3,5M773.3,3.7l3.2,5.2M774.6,2.4l3.4,5.4M776,1.1l3.4,5.4M777.4,-0.2l3.4,5.4M780,-2l3.4,4.6" stroke-width="0.8"/></g>
<path d="M799,0.6h13.4M799,4.6h13.4M799,8.7h9" stroke="#505050" stroke-width="0.9" stroke-dasharray="1 1"/>
<rect x="856.4" y="-1" width="11" height="11.5" fill="none" stroke="#505050" stroke-width="0.9" stroke-dasharray="1 1"/><path d="M858.4,2.2h7M861.9,2.2v6.4" stroke="#505050" stroke-width="1.2"/>
<path d="M883.1,1.7L886.6,-1.8L890.1,1.7h-1.5v1.1h-4v-1.1z" fill="#505050"/><path d="M885.3,5.7l2.2,2.1l4.3,-5.4" stroke="#505050" stroke-width="1.1" fill="none"/><path d="M892,6.1h3.1v1.2h2.1l-3.65,3.9l-3.65,-3.9h2.1z" fill="#505050"/><use href="#dd" x="906.5" y="4.6"/>
<path d="M1643.4,4.6l-4.2,3.9" stroke="#1f56c8" stroke-width="2.4" stroke-linecap="round"/><circle cx="1646.5" cy="1" r="4" fill="#f4f6fb" stroke="#2f6ee0" stroke-width="1.1"/>
<path d="M1663.2,6.2c0,-2.6 2.8,-4.4 6.2,-4.4s6.2,1.8 6.2,4.4s-2.8,4 -6.2,4c-0.8,0 -1.4,0 -2,-0.2l-1.6,2.2l0.2,-2.8c-1.8,-0.8 -2.8,-1.8 -2.8,-3.200z" fill="#e4e4ec" stroke="#b0b0b0" stroke-width="0.8"/>
<circle cx="1677.7" cy="1.8" r="8.2" fill="url(#gr)"/>
<text x="33.6" y="7" font-size="12" font-family='"Liberation Sans","Noto Sans CJK SC",sans-serif' fill="#000" stroke="#000" stroke-width="0.25">新订单</text>
<text x="185.6" y="7" font-size="12" font-family='"Liberation Sans","Noto Sans CJK SC",sans-serif' fill="#000" stroke="#000" stroke-width="0.25">自动交易</text>
<text x="781" y="12.8" font-size="6.5" font-weight="bold" font-family='"Liberation Sans","Noto Sans CJK SC",sans-serif' fill="#333">E</text>
<text x="809" y="12.8" font-size="6.5" font-weight="bold" font-family='"Liberation Sans","Noto Sans CJK SC",sans-serif' fill="#333">F</text>
<text x="829.6" y="8.9" font-size="12.4" font-family='"Liberation Sans","Noto Sans CJK SC",sans-serif' fill="#505050" textLength="8" lengthAdjust="spacingAndGlyphs">A</text>
<text x="1677.4" y="6" font-size="13.5" text-anchor="middle" font-family='"Liberation Serif",serif' fill="#fff">1</text>
<text x="930.6" y="7.9" font-size="9.8" font-family='"Liberation Sans","Noto Sans CJK SC",sans-serif' fill="#202020" stroke="#202020" stroke-width="0.15" text-rendering="geometricPrecision" textLength="12.4" lengthAdjust="spacingAndGlyphs">M1</text>
<text x="958.7" y="7.9" font-size="9.8" font-family='"Liberation Sans","Noto Sans CJK SC",sans-serif' fill="#202020" stroke="#202020" stroke-width="0.15" text-rendering="geometricPrecision" textLength="12.3" lengthAdjust="spacingAndGlyphs">M5</text>
<text x="984.5" y="7.9" font-size="9.8" font-family='"Liberation Sans","Noto Sans CJK SC",sans-serif' fill="#202020" stroke="#202020" stroke-width="0.15" text-rendering="geometricPrecision" textLength="17.8" lengthAdjust="spacingAndGlyphs">M15</text>
<text x="1012.9" y="7.9" font-size="9.8" font-family='"Liberation Sans","Noto Sans CJK SC",sans-serif' fill="#202020" stroke="#202020" stroke-width="0.15" text-rendering="geometricPrecision" textLength="17.4" lengthAdjust="spacingAndGlyphs">M30</text>
<text x="1043.8" y="7.9" font-size="9.8" font-family='"Liberation Sans","Noto Sans CJK SC",sans-serif' fill="#202020" stroke="#202020" stroke-width="0.15" text-rendering="geometricPrecision" textLength="11.4" lengthAdjust="spacingAndGlyphs">H1</text>
<text x="1070.8" y="7.9" font-size="9.8" font-family='"Liberation Sans","Noto Sans CJK SC",sans-serif' fill="#202020" stroke="#202020" stroke-width="0.15" text-rendering="geometricPrecision" textLength="12" lengthAdjust="spacingAndGlyphs">H4</text>
<text x="1099.9" y="7.9" font-size="9.8" font-family='"Liberation Sans","Noto Sans CJK SC",sans-serif' fill="#202020" stroke="#202020" stroke-width="0.15" text-rendering="geometricPrecision" textLength="11" lengthAdjust="spacingAndGlyphs">D1</text>
<text x="1127.5" y="7.9" font-size="9.8" font-family='"Liberation Sans","Noto Sans CJK SC",sans-serif' fill="#202020" stroke="#202020" stroke-width="0.15" text-rendering="geometricPrecision" textLength="13.5" lengthAdjust="spacingAndGlyphs">W1</text>
<text x="1153.8" y="7.9" font-size="9.8" font-family='"Liberation Sans","Noto Sans CJK SC",sans-serif' fill="#202020" stroke="#202020" stroke-width="0.15" text-rendering="geometricPrecision" textLength="14.6" lengthAdjust="spacingAndGlyphs">MN</text>
</svg>
</body></html>
